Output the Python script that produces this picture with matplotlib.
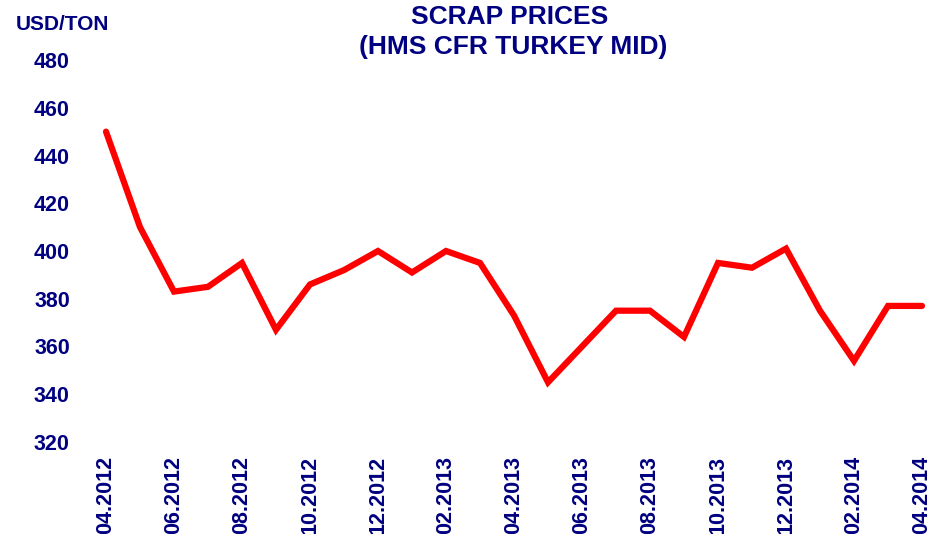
import matplotlib
matplotlib.use("Agg")
import matplotlib.pyplot as plt

months = ["04.2012", "05.2012", "06.2012", "07.2012", "08.2012", "09.2012", "10.2012",
          "11.2012", "12.2012", "01.2013", "02.2013", "03.2013", "04.2013", "05.2013",
          "06.2013", "07.2013", "08.2013", "09.2013", "10.2013", "11.2013", "12.2013",
          "01.2014", "02.2014", "03.2014", "04.2014"]
prices = [450, 410, 383, 385, 395, 367, 386, 392, 400, 391, 400, 395, 373, 345,
          360, 375, 375, 364, 395, 393, 401, 375, 354, 377, 377]
yticks = [320, 340, 360, 380, 400, 420, 440, 460, 480]

navy = "#000080"
plt.rcParams['font.family'] = ['Liberation Sans', 'DejaVu Sans']

W, H = 941, 534
fig = plt.figure(figsize=(W / 100, H / 100), dpi=100)
ax = fig.add_axes([106 / W, (H - 442) / H, (922 - 106) / W, (442 - 60) / H])

x = list(range(len(months)))
ax.plot(x, prices, color="#FF0000", linewidth=4.5, clip_on=False,
        solid_joinstyle="miter", solid_capstyle="round")

ax.set_xlim(0, len(months) - 1)
ax.set_ylim(320, 480)
ax.set_yticks(yticks)
ax.set_yticklabels([str(v) for v in yticks], fontsize=15.5, fontweight="bold", color=navy)
ax.set_xticks(x[::2])
ax.set_xticklabels(months[::2], rotation=90, fontsize=15.5, fontweight="bold", color=navy)
ax.tick_params(axis="y", length=0, pad=26)
ax.tick_params(axis="x", length=0, pad=10)
for s in ax.spines.values():
    s.set_visible(False)

fig.text(510 / W, 1 - 17 / H, "SCRAP PRICES", ha="center", va="center",
         fontsize=19, fontweight="bold", color=navy)
fig.text(513 / W, 1 - 47 / H, "(HMS CFR TURKEY MID)", ha="center", va="center",
         fontsize=19, fontweight="bold", color=navy)
fig.text(16 / W, 1 - 24 / H, "USD/TON", ha="left", va="center",
         fontsize=15, fontweight="bold", color=navy)

fig.savefig("out.png", dpi=100)
